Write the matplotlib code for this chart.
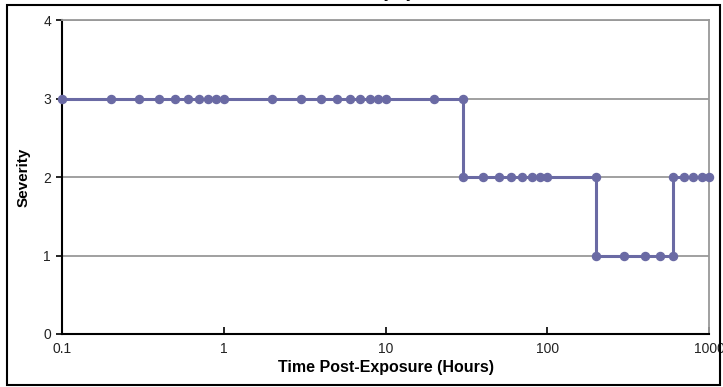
import matplotlib
matplotlib.use("Agg")
import matplotlib.pyplot as plt
from matplotlib.patches import Rectangle

plt.rcParams['font.family'] = ['Liberation Sans', 'DejaVu Sans']

# hours post-exposure and severity score at each observation
hours = [0.1, 0.2, 0.3, 0.4, 0.5, 0.6, 0.7, 0.8, 0.9, 1,
         2, 3, 4, 5, 6, 7, 8, 9, 10, 20, 30,
         30, 40, 50, 60, 70, 80, 90, 100, 200,
         200, 300, 400, 500, 600,
         600, 700, 800, 900, 1000]
severity = [3] * 21 + [2] * 9 + [1] * 5 + [2] * 5

x_ticks = [0.1, 1, 10, 100, 1000]
x_labels = ['0.1', '1', '10', '100', '1000']
y_ticks = [0, 1, 2, 3, 4]

line_color = '#6a6aa4'

fig = plt.figure(figsize=(7.23, 3.87), dpi=100)
ax = fig.add_axes([0.0858, 0.137, 0.8948, 0.811])

ax.plot(hours, severity, color=line_color, linewidth=2.2,
        marker='o', markersize=5.8, markeredgecolor=line_color,
        zorder=3, clip_on=False)

ax.set_xscale('log')
ax.set_xlim(0.1, 1000)
ax.set_ylim(0, 4)
ax.set_xticks(x_ticks)
ax.set_xticklabels(x_labels)
ax.minorticks_off()
ax.set_yticks(y_ticks)

ax.yaxis.grid(True, color='#999999', linewidth=1.3)
ax.set_axisbelow(True)
for side in ['top', 'right']:
    ax.spines[side].set_color('#999999')
    ax.spines[side].set_linewidth(1.3)
for side in ['left', 'bottom']:
    ax.spines[side].set_color('black')
    ax.spines[side].set_linewidth(1.5)

ax.tick_params(axis='y', direction='out', length=4, width=1.2, labelsize=10, pad=4,
               labelcolor='#222222')
ax.tick_params(axis='x', direction='in', length=5, width=1.2, labelsize=10, pad=6,
               labelcolor='#222222')

ax.set_xlabel('Time Post-Exposure (Hours)', fontsize=11.5, fontweight='bold', labelpad=3)
ax.set_ylabel('Severity', fontsize=11, fontweight='bold', labelpad=9)

# outer chart border
fig.patches.append(Rectangle((0.0097, 0.004), 0.986, 0.983, transform=fig.transFigure,
                             fill=False, edgecolor='black', linewidth=1.5))

# title sits mostly above the visible area, as in the source image
fig.text(0.545, 1.004, 'Severity by Time', ha='center', va='baseline',
         fontsize=11, fontweight='bold')

fig.savefig('out.png', dpi=100)
